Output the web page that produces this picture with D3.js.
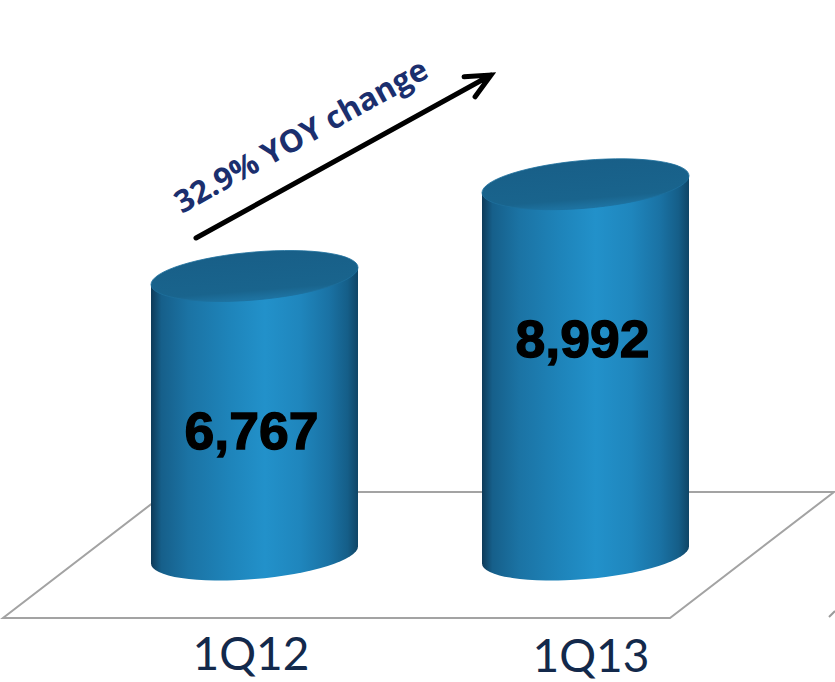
<!DOCTYPE html>
<html>
<head>
<meta charset="utf-8">
<script src="https://cdn.jsdelivr.net/npm/d3@7"></script>
<style>
  html, body { margin: 0; padding: 0; background: #fff; }
  svg { display: block; }
</style>
</head>
<body>
<svg width="835" height="682"></svg>
<script>
// data
var quarters = ["1Q12", "1Q13"];
var values = [6767, 8992];
var changeLabel = "32.9% YOY change";

var svg = d3.select("svg"),
    width = +svg.attr("width"),
    height = +svg.attr("height");

// cylinder geometry
var rx = 103.5,   // half width of a cylinder
    ry = 24,      // ellipse depth
    tilt = 8.5,   // right side sits this much higher than the left
    shear = -tilt / rx;

var x = d3.scalePoint().domain(quarters).range([254.5, 585.5]);
var y = d3.scaleLinear().domain([0, 9000]).range([555, 555 - 371.1]);

var defs = svg.append("defs");
var bodyGrad = defs.append("linearGradient").attr("id", "body")
    .attr("x1", "0%").attr("x2", "100%").attr("y1", "0%").attr("y2", "0%");
[[0, "#0e3a58"], [0.05, "#165f8a"], [0.18, "#1b73a4"], [0.38, "#1e84ba"],
 [0.55, "#2291ca"], [0.72, "#1f86bd"], [0.86, "#1a72a4"], [0.95, "#155e88"], [1, "#0f4566"]]
  .forEach(function(s) {
    bodyGrad.append("stop").attr("offset", s[0]).attr("stop-color", s[1]);
  });

var capGrad = defs.append("linearGradient").attr("id", "cap")
    .attr("x1", "0%").attr("x2", "0%").attr("y1", "0%").attr("y2", "100%");
capGrad.append("stop").attr("offset", 0).attr("stop-color", "#185f88");
capGrad.append("stop").attr("offset", 0.8).attr("stop-color", "#19648d");
capGrad.append("stop").attr("offset", 1).attr("stop-color", "#1e74a3");

// floor
svg.append("path")
    .attr("d", "M3,618 L670,618 L834,492 L167,492 Z")
    .attr("fill", "none")
    .attr("stroke", "#a3a3a3")
    .attr("stroke-width", 2);
svg.append("path")
    .attr("d", "M829,617 L835,611")
    .attr("stroke", "#9a9a9a")
    .attr("stroke-width", 2);

// cylinders
var cyl = svg.selectAll(".cyl")
  .data(quarters.map(function(q, i) { return {q: q, v: values[i]}; }))
  .enter().append("g")
    .attr("class", "cyl")
    .attr("transform", function(d) { return "translate(" + x(d.q) + ",0) matrix(1," + shear + ",0,1,0,0)"; });

cyl.append("path")
    .attr("fill", "url(#body)")
    .attr("d", function(d) {
      var t = y(d.v), b = y(0);
      return "M" + (-rx) + "," + t + " L" + (-rx) + "," + b +
        " A" + rx + "," + ry + " 0 0 0 " + rx + "," + b +
        " L" + rx + "," + t + " Z";
    });

cyl.append("ellipse")
    .attr("cx", 0)
    .attr("cy", function(d) { return y(d.v); })
    .attr("rx", rx)
    .attr("ry", ry)
    .attr("fill", "url(#cap)")
    .attr("stroke", "#1d6f9d")
    .attr("stroke-width", 0.8);

// value labels
svg.selectAll(".val")
  .data(values)
  .enter().append("text")
    .attr("class", "val")
    .attr("x", function(d, i) { return x(quarters[i]) - 3; })
    .attr("y", function(d) { return y(d) + 173; })
    .attr("text-anchor", "middle")
    .attr("font-family", "'Liberation Sans', Arial, sans-serif")
    .attr("font-weight", "bold")
    .attr("font-size", 52)
    .attr("fill", "#000")
    .attr("stroke", "#000")
    .attr("stroke-width", 1.3)
    .attr("textLength", 134)
    .attr("lengthAdjust", "spacingAndGlyphs")
    .text(d3.format(","));

// category labels
svg.selectAll(".cat")
  .data(quarters)
  .enter().append("text")
    .attr("class", "cat")
    .attr("x", function(d, i) { return x(d) + (i ? 5.5 : -3.5); })
    .attr("y", function(d, i) { return i ? 672 : 670; })
    .attr("text-anchor", "middle")
    .attr("font-family", "Lato, 'Open Sans', sans-serif")
    .attr("font-size", 46)
    .attr("fill", "#13294b")
    .text(function(d) { return d; });

// growth arrow
var a0 = [196, 238], a1 = [491, 75];
var ang = Math.atan2(a1[1] - a0[1], a1[0] - a0[0]);
var wing = 27, spread = 25 * Math.PI / 180;
function wingPt(s) {
  return [a1[0] - wing * Math.cos(ang + s), a1[1] - wing * Math.sin(ang + s)];
}
var w1 = wingPt(spread), w2 = wingPt(-spread);
svg.append("path")
    .attr("d", "M" + a0 + " L" + a1 + " M" + w1 + " L" + a1 + " L" + w2)
    .attr("fill", "none")
    .attr("stroke", "#000")
    .attr("stroke-width", 5)
    .attr("stroke-linecap", "round")
    .attr("stroke-linejoin", "miter");

svg.append("text")
    .attr("transform", "translate(182,214) rotate(-29)")
    .attr("font-family", "'Open Sans', Lato, sans-serif")
    .attr("font-weight", "bold")
    .attr("font-size", 31)
    .attr("fill", "#1b2f6e")
    .attr("textLength", 284)
    .attr("lengthAdjust", "spacingAndGlyphs")
    .text(changeLabel);
</script>
</body>
</html>
